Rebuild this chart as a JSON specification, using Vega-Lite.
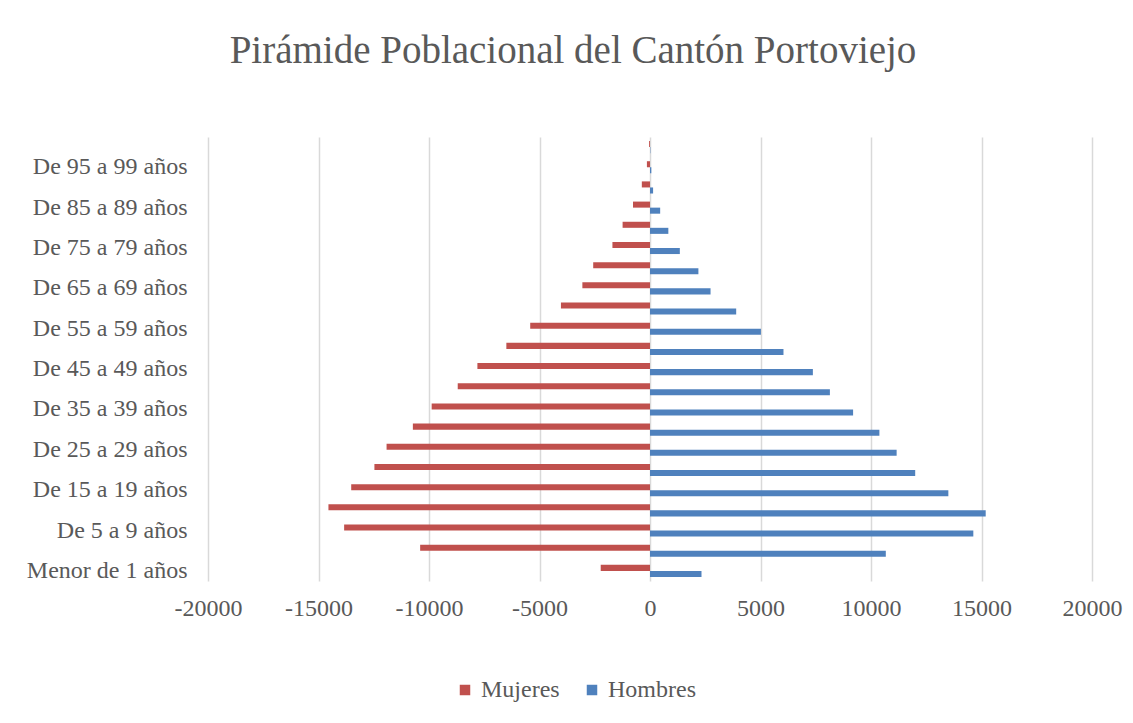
{
  "$schema": "https://vega.github.io/schema/vega-lite/v6.json",
  "width": 884,
  "height": 444,
  "autosize": {"type": "none"},
  "padding": {"left": 208, "top": 137, "right": 41, "bottom": 142},
  "background": "white",
  "config": {
    "font": "Liberation Serif",
    "view": {"stroke": null}
  },
  "title": {
    "text": "Pirámide Poblacional del Cantón Portoviejo",
    "font": "Liberation Serif",
    "fontSize": 39,
    "fontWeight": "normal",
    "color": "#595959",
    "anchor": "middle",
    "dx": -77,
    "offset": 66
  },
  "data": {
    "values": [
      {"edad": "Menor de 1 años", "sexo": "Mujeres", "poblacion": -2230},
      {"edad": "Menor de 1 años", "sexo": "Hombres", "poblacion": 2330},
      {"edad": "De 1 a 4 años", "sexo": "Mujeres", "poblacion": -10400},
      {"edad": "De 1 a 4 años", "sexo": "Hombres", "poblacion": 10670},
      {"edad": "De 5 a 9 años", "sexo": "Mujeres", "poblacion": -13840},
      {"edad": "De 5 a 9 años", "sexo": "Hombres", "poblacion": 14630},
      {"edad": "De 10 a 14 años", "sexo": "Mujeres", "poblacion": -14550},
      {"edad": "De 10 a 14 años", "sexo": "Hombres", "poblacion": 15190},
      {"edad": "De 15 a 19 años", "sexo": "Mujeres", "poblacion": -13520},
      {"edad": "De 15 a 19 años", "sexo": "Hombres", "poblacion": 13500},
      {"edad": "De 20 a 24 años", "sexo": "Mujeres", "poblacion": -12470},
      {"edad": "De 20 a 24 años", "sexo": "Hombres", "poblacion": 12000},
      {"edad": "De 25 a 29 años", "sexo": "Mujeres", "poblacion": -11920},
      {"edad": "De 25 a 29 años", "sexo": "Hombres", "poblacion": 11160},
      {"edad": "De 30 a 34 años", "sexo": "Mujeres", "poblacion": -10730},
      {"edad": "De 30 a 34 años", "sexo": "Hombres", "poblacion": 10380},
      {"edad": "De 35 a 39 años", "sexo": "Mujeres", "poblacion": -9880},
      {"edad": "De 35 a 39 años", "sexo": "Hombres", "poblacion": 9190},
      {"edad": "De 40 a 44 años", "sexo": "Mujeres", "poblacion": -8700},
      {"edad": "De 40 a 44 años", "sexo": "Hombres", "poblacion": 8140},
      {"edad": "De 45 a 49 años", "sexo": "Mujeres", "poblacion": -7810},
      {"edad": "De 45 a 49 años", "sexo": "Hombres", "poblacion": 7370},
      {"edad": "De 50 a 54 años", "sexo": "Mujeres", "poblacion": -6500},
      {"edad": "De 50 a 54 años", "sexo": "Hombres", "poblacion": 6040},
      {"edad": "De 55 a 59 años", "sexo": "Mujeres", "poblacion": -5420},
      {"edad": "De 55 a 59 años", "sexo": "Hombres", "poblacion": 5020},
      {"edad": "De 60 a 64 años", "sexo": "Mujeres", "poblacion": -4030},
      {"edad": "De 60 a 64 años", "sexo": "Hombres", "poblacion": 3900},
      {"edad": "De 65 a 69 años", "sexo": "Mujeres", "poblacion": -3060},
      {"edad": "De 65 a 69 años", "sexo": "Hombres", "poblacion": 2740},
      {"edad": "De 70 a 74 años", "sexo": "Mujeres", "poblacion": -2570},
      {"edad": "De 70 a 74 años", "sexo": "Hombres", "poblacion": 2190},
      {"edad": "De 75 a 79 años", "sexo": "Mujeres", "poblacion": -1700},
      {"edad": "De 75 a 79 años", "sexo": "Hombres", "poblacion": 1350},
      {"edad": "De 80 a 84 años", "sexo": "Mujeres", "poblacion": -1240},
      {"edad": "De 80 a 84 años", "sexo": "Hombres", "poblacion": 830},
      {"edad": "De 85 a 89 años", "sexo": "Mujeres", "poblacion": -770},
      {"edad": "De 85 a 89 años", "sexo": "Hombres", "poblacion": 460},
      {"edad": "De 90 a 94 años", "sexo": "Mujeres", "poblacion": -370},
      {"edad": "De 90 a 94 años", "sexo": "Hombres", "poblacion": 140},
      {"edad": "De 95 a 99 años", "sexo": "Mujeres", "poblacion": -140},
      {"edad": "De 95 a 99 años", "sexo": "Hombres", "poblacion": 60},
      {"edad": "De 100 años y más", "sexo": "Mujeres", "poblacion": -40},
      {"edad": "De 100 años y más", "sexo": "Hombres", "poblacion": 15}
    ]
  },
  "mark": {"type": "bar", "stroke": null},
  "encoding": {
    "y": {
      "field": "edad",
      "type": "nominal",
      "sort": ["De 100 años y más", "De 95 a 99 años", "De 90 a 94 años", "De 85 a 89 años", "De 80 a 84 años", "De 75 a 79 años", "De 70 a 74 años", "De 65 a 69 años", "De 60 a 64 años", "De 55 a 59 años", "De 50 a 54 años", "De 45 a 49 años", "De 40 a 44 años", "De 35 a 39 años", "De 30 a 34 años", "De 25 a 29 años", "De 20 a 24 años", "De 15 a 19 años", "De 10 a 14 años", "De 5 a 9 años", "De 1 a 4 años", "Menor de 1 años"],
      "scale": {"paddingInner": 0.4, "paddingOuter": 0.2},
      "axis": {
        "title": null,
        "values": ["De 95 a 99 años", "De 85 a 89 años", "De 75 a 79 años", "De 65 a 69 años", "De 55 a 59 años", "De 45 a 49 años", "De 35 a 39 años", "De 25 a 29 años", "De 15 a 19 años", "De 5 a 9 años", "Menor de 1 años"],
        "domain": false,
        "ticks": false,
        "grid": false,
        "labelFont": "Liberation Serif",
        "labelFontSize": 24,
        "labelColor": "#595959",
        "labelPadding": 21
      }
    },
    "yOffset": {
      "field": "sexo",
      "type": "nominal",
      "sort": ["Mujeres", "Hombres"],
      "scale": {"paddingInner": 0, "paddingOuter": 0}
    },
    "x": {
      "field": "poblacion",
      "type": "quantitative",
      "scale": {"domain": [-20000, 20000], "nice": false},
      "axis": {
        "title": null,
        "values": [-20000, -15000, -10000, -5000, 0, 5000, 10000, 15000, 20000],
        "labelExpr": "'' + datum.value",
        "labelFlush": false,
        "labelOverlap": false,
        "domain": false,
        "ticks": false,
        "grid": true,
        "gridColor": "#d9d9d9",
        "gridWidth": 1.5,
        "labelFont": "Liberation Serif",
        "labelFontSize": 24,
        "labelColor": "#595959",
        "labelPadding": 15
      }
    },
    "color": {
      "field": "sexo",
      "type": "nominal",
      "sort": ["Mujeres", "Hombres"],
      "scale": {"domain": ["Mujeres", "Hombres"], "range": ["#C0504D", "#4F81BD"]},
      "legend": {
        "title": null,
        "orient": "none",
        "legendX": 245,
        "legendY": 541,
        "direction": "horizontal",
        "symbolType": "square",
        "symbolSize": 110,
        "symbolStrokeWidth": 0,
        "labelFont": "Liberation Serif",
        "labelFontSize": 24,
        "labelColor": "#595959",
        "columnPadding": 20,
        "labelOffset": 4
      }
    }
  }
}
